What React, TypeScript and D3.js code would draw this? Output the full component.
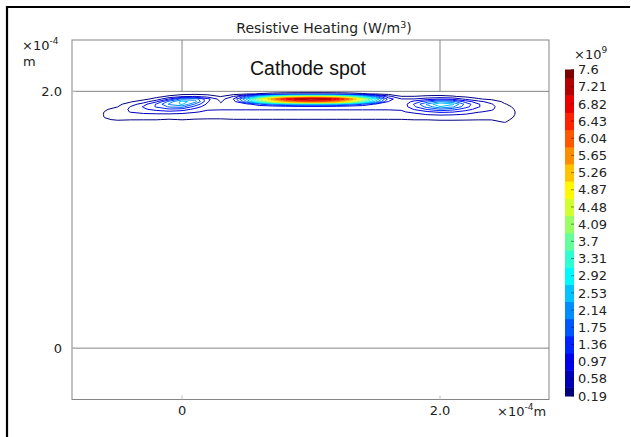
import React from 'react';
import * as d3 from 'd3';

// Grid node positions (×1e-4 m)
const xNodes = [-0.7, -0.6, -0.5, -0.4, -0.3, -0.2, -0.1, 0.0, 0.1, 0.2, 0.3, 0.4, 0.5, 0.6, 0.7, 0.8, 0.9, 1.0, 1.1, 1.2, 1.3, 1.4, 1.5, 1.6, 1.7, 1.8, 1.9, 2.0, 2.1, 2.2, 2.3, 2.4, 2.5, 2.6, 2.7];
const yNodes = [2.0, 1.98, 1.96, 1.94, 1.92, 1.9, 1.88, 1.86, 1.84, 1.82, 1.8, 1.78, 1.76, 1.74, 1.72];

// Resistive heating (×1e9 W/m^3), one row per yNode, one column per xNode
const heating: number[][] = [
  [0, 0, 0, 0, 0, 0, 0, 0, 0, 0, 0, 0, 0, 0, 0, 0, 0, 0, 0, 0, 0, 0, 0, 0, 0, 0, 0, 0, 0, 0, 0, 0, 0, 0, 0],
  [0, 0, 0, 0, 0, 0.03, 0.05, 0.08, 0.1, 0.08, 0.05, 0.05, 0.13, 0.22, 0.29, 0.34, 0.37, 0.38, 0.38, 0.35, 0.3, 0.23, 0.15, 0.06, 0.05, 0.05, 0.06, 0.06, 0.05, 0.03, 0.02, 0, 0, 0, 0],
  [0, 0, 0, 0, 0.03, 0.1, 0.25, 0.5, 0.6, 0.4, 0.18, 0.6, 1.56, 2.64, 3.48, 4.08, 4.44, 4.56, 4.5, 4.2, 3.6, 2.76, 1.8, 0.72, 0.2, 0.2, 0.25, 0.28, 0.22, 0.12, 0.08, 0.04, 0, 0, 0],
  [0, 0, 0, 0.05, 0.1, 0.3, 1.0, 1.9, 2.0, 1.1, 0.4, 1.0, 2.6, 4.4, 5.8, 6.8, 7.4, 7.6, 7.5, 7.0, 6.0, 4.6, 3.0, 1.2, 0.6, 0.6, 0.8, 0.95, 0.85, 0.5, 0.22, 0.12, 0.05, 0, 0],
  [0, 0, 0.05, 0.15, 0.35, 0.9, 1.9, 2.7, 2.3, 1.0, 0.55, 0.8, 2.08, 3.52, 4.64, 5.44, 5.92, 6.08, 6.0, 5.6, 4.8, 3.68, 2.4, 0.96, 0.62, 1.1, 1.6, 2.1, 1.9, 1.2, 0.7, 0.4, 0.12, 0, 0],
  [0, 0.02, 0.1, 0.35, 0.8, 1.4, 2.2, 2.6, 1.7, 0.85, 0.62, 0.62, 0.78, 1.32, 1.74, 2.04, 2.22, 2.28, 2.25, 2.1, 1.8, 1.38, 0.9, 0.62, 0.62, 1.4, 2.2, 2.9, 2.6, 1.6, 1.0, 0.62, 0.22, 0.03, 0],
  [0, 0.08, 0.18, 0.6, 1.0, 1.4, 1.8, 1.9, 1.2, 0.72, 0.64, 0.62, 0.62, 0.62, 0.62, 0.68, 0.74, 0.76, 0.75, 0.7, 0.62, 0.62, 0.62, 0.62, 0.64, 1.3, 1.9, 2.5, 2.2, 1.5, 1.0, 0.68, 0.32, 0.08, 0],
  [0, 0.15, 0.3, 0.65, 0.9, 1.1, 1.3, 1.2, 0.85, 0.62, 0.6, 0.6, 0.6, 0.6, 0.6, 0.6, 0.6, 0.6, 0.6, 0.6, 0.6, 0.6, 0.6, 0.6, 0.62, 1.0, 1.4, 1.7, 1.5, 1.15, 0.8, 0.62, 0.38, 0.12, 0],
  [0, 0.2, 0.38, 0.6, 0.7, 0.8, 0.85, 0.75, 0.62, 0.5, 0.5, 0.5, 0.5, 0.5, 0.5, 0.5, 0.5, 0.5, 0.5, 0.5, 0.5, 0.5, 0.5, 0.5, 0.52, 0.7, 0.9, 1.05, 1.0, 0.8, 0.6, 0.52, 0.38, 0.15, 0],
  [0, 0.21, 0.4, 0.45, 0.5, 0.5, 0.5, 0.48, 0.42, 0.38, 0.38, 0.38, 0.38, 0.38, 0.38, 0.38, 0.38, 0.38, 0.38, 0.38, 0.38, 0.38, 0.38, 0.38, 0.4, 0.45, 0.6, 0.65, 0.62, 0.55, 0.45, 0.42, 0.35, 0.15, 0],
  [0, 0.2, 0.34, 0.32, 0.33, 0.3, 0.3, 0.3, 0.28, 0.26, 0.26, 0.27, 0.27, 0.27, 0.27, 0.27, 0.27, 0.27, 0.27, 0.27, 0.27, 0.27, 0.27, 0.27, 0.28, 0.3, 0.33, 0.36, 0.36, 0.33, 0.3, 0.3, 0.3, 0.14, 0],
  [0, 0.16, 0.22, 0.2, 0.2, 0.2, 0.17, 0.2, 0.17, 0.16, 0.16, 0.18, 0.18, 0.18, 0.18, 0.18, 0.18, 0.18, 0.18, 0.18, 0.18, 0.18, 0.18, 0.18, 0.18, 0.2, 0.2, 0.22, 0.22, 0.21, 0.2, 0.2, 0.24, 0.12, 0],
  [0, 0.08, 0.1, 0.1, 0.09, 0.08, 0.07, 0.08, 0.07, 0.06, 0.06, 0.08, 0.08, 0.08, 0.08, 0.08, 0.08, 0.08, 0.08, 0.08, 0.08, 0.08, 0.08, 0.08, 0.08, 0.08, 0.09, 0.1, 0.1, 0.1, 0.1, 0.11, 0.2, 0.1, 0],
  [0, 0, 0.02, 0.03, 0.02, 0.02, 0.02, 0.02, 0.02, 0.02, 0.02, 0.02, 0.02, 0.02, 0.02, 0.02, 0.02, 0.02, 0.02, 0.02, 0.02, 0.02, 0.02, 0.02, 0.02, 0.02, 0.02, 0.02, 0.02, 0.02, 0.02, 0.02, 0.06, 0.02, 0],
  [0, 0, 0, 0, 0, 0, 0, 0, 0, 0, 0, 0, 0, 0, 0, 0, 0, 0, 0, 0, 0, 0, 0, 0, 0, 0, 0, 0, 0, 0, 0, 0, 0, 0, 0],
];

// Contour levels / colour legend (×1e9)
const levels = [0.19, 0.58, 0.97, 1.36, 1.75, 2.14, 2.53, 2.92, 3.31, 3.7, 4.09, 4.48, 4.87, 5.26, 5.65, 6.04, 6.43, 6.82, 7.21, 7.6];
const levelLabels = ['0.19', '0.58', '0.97', '1.36', '1.75', '2.14', '2.53', '2.92', '3.31', '3.7', '4.09', '4.48', '4.87', '5.26', '5.65', '6.04', '6.43', '6.82', '7.21', '7.6'];

// Axis ticks (×1e-4 m)
const xTicks = [0, 2];
const xTickLabels = ['0', '2.0'];
const yTicks = [0, 2];
const yTickLabels = ['0', '2.0'];

// Geometry lines (×1e-4 m)
const hLines = [0, 2];
const electrodeEdges = [0, 2];

const jet = d3
  .scaleLinear<string>()
  .domain([0, 0.125, 0.375, 0.625, 0.875, 1])
  .range(['#00007f', '#0000ff', '#00ffff', '#ffff00', '#ff0000', '#7f0000'])
  .interpolate(d3.interpolateRgb);

const FONT = 'DejaVu Sans, sans-serif';

export default function App() {
  const W = 631;
  const H = 437;
  const left = 72, right = 549, top = 40, bottom = 399.5;
  const x = d3.scaleLinear().domain([-0.853, 2.845]).range([left, right]);
  const y = d3.scaleLinear().domain([-0.4, 2.4]).range([bottom, top]);

  const nx = xNodes.length;
  const ny = yNodes.length;
  const values = heating.flat();
  const contours = d3.contours().size([nx, ny]).thresholds(levels)(values);
  const ix = d3.scaleLinear().domain(d3.range(nx)).range(xNodes);
  const iy = d3.scaleLinear().domain(d3.range(ny)).range(yNodes);
  const proj = d3.geoTransform({
    point(px: number, py: number) {
      (this as any).stream.point(x(ix(px - 0.5)), y(iy(py - 0.5)));
    },
  });
  const path = d3.geoPath(proj as any);

  const cbX = 565, cbW = 9;
  const cb = d3.scaleLinear().domain([levels[0], levels[levels.length - 1]]).range([396, 69.5]);
  const half = (levels[1] - levels[0]) / 2;
  const gray = '#858585';

  return (
    <svg
      width={W}
      height={H}
      style={{ position: 'absolute', left: 0, top: 0, background: '#fff' }}
      fontFamily={FONT}
    >
      <rect x={0} y={0} width={W} height={H} fill="#fff" />
      {/* outer black border */}
      <line x1={7} y1={6} x2={7} y2={H} stroke="#000" strokeWidth={2.2} />
      <line x1={6} y1={7} x2={630} y2={7} stroke="#000" strokeWidth={2} />

      {/* title */}
      <text x={324} y={33} fontSize={14} textAnchor="middle" fill="#222">
        Resistive Heating (W/m<tspan dy={-5} fontSize={9.5}>3</tspan>
        <tspan dy={5}>)</tspan>
      </text>

      {/* plot frame */}
      <rect x={left} y={top} width={right - left} height={bottom - top} fill="none" stroke={gray} strokeWidth={1} />
      {hLines.map((v) => (
        <line key={'h' + v} x1={left} x2={right} y1={y(v)} y2={y(v)} stroke={gray} strokeWidth={1} />
      ))}
      {electrodeEdges.map((v) => (
        <line key={'e' + v} x1={x(v)} x2={x(v)} y1={top} y2={y(2)} stroke={gray} strokeWidth={1} />
      ))}
      <text x={308} y={75} fontSize={19.5} textAnchor="middle" fontFamily="Liberation Sans, Arial, sans-serif" fill="#111">
        Cathode spot
      </text>

      {/* ticks */}
      {xTicks.map((v) => (
        <line key={'xt' + v} x1={x(v)} x2={x(v)} y1={bottom} y2={bottom - 4} stroke="#bbb" />
      ))}
      {yTicks.map((v) => (
        <line key={'yt' + v} x1={left} x2={left + 4} y1={y(v)} y2={y(v)} stroke="#bbb" />
      ))}

      {/* contours */}
      <g>
        {contours.map((c, i) => (
          <path
            key={'c' + i}
            d={path(c as any) || ''}
            fill="none"
            stroke={jet(i / (levels.length - 1))}
            strokeWidth={1}
            strokeLinejoin="round"
          />
        ))}
      </g>

      {/* axis labels */}
      {yTicks.map((v, i) => (
        <text key={'yl' + v} x={62} y={y(v)} dy="0.35em" fontSize={13} textAnchor="end" fill="#222">
          {yTickLabels[i]}
        </text>
      ))}
      <text x={22} y={50} fontSize={13} fill="#222">
        ×10<tspan dy={-6} fontSize={9}>-4</tspan>
      </text>
      <text x={23} y={66} fontSize={13} fill="#222">m</text>
      {xTicks.map((v, i) => (
        <text key={'xl' + v} x={x(v)} y={415} fontSize={13} textAnchor="middle" fill="#222">
          {xTickLabels[i]}
        </text>
      ))}
      <text x={497} y={416} fontSize={13} fill="#222">
        ×10<tspan dy={-6} fontSize={9}>-4</tspan>
        <tspan dy={6}>m</tspan>
      </text>

      {/* colour legend */}
      <text x={574} y={59} fontSize={13} fill="#222">
        ×10<tspan dy={-6} fontSize={9}>9</tspan>
      </text>
      {levels.map((lv, k) => {
        const y0 = cb(Math.min(levels[levels.length - 1], lv + half));
        const y1 = cb(Math.max(levels[0], lv - half));
        return (
          <rect key={'b' + k} x={cbX} y={y0} width={cbW} height={y1 - y0 + 0.5} fill={jet(k / (levels.length - 1))} />
        );
      })}
      {levels.map((lv, k) => (
        <g key={'l' + k}>
          <line x1={cbX + cbW - 3} x2={cbX + cbW} y1={cb(lv)} y2={cb(lv)} stroke="rgba(0,0,0,0.45)" />
          <text x={578} y={cb(lv)} dy="0.36em" fontSize={13} fill="#222">
            {levelLabels[k]}
          </text>
        </g>
      ))}
    </svg>
  );
}
